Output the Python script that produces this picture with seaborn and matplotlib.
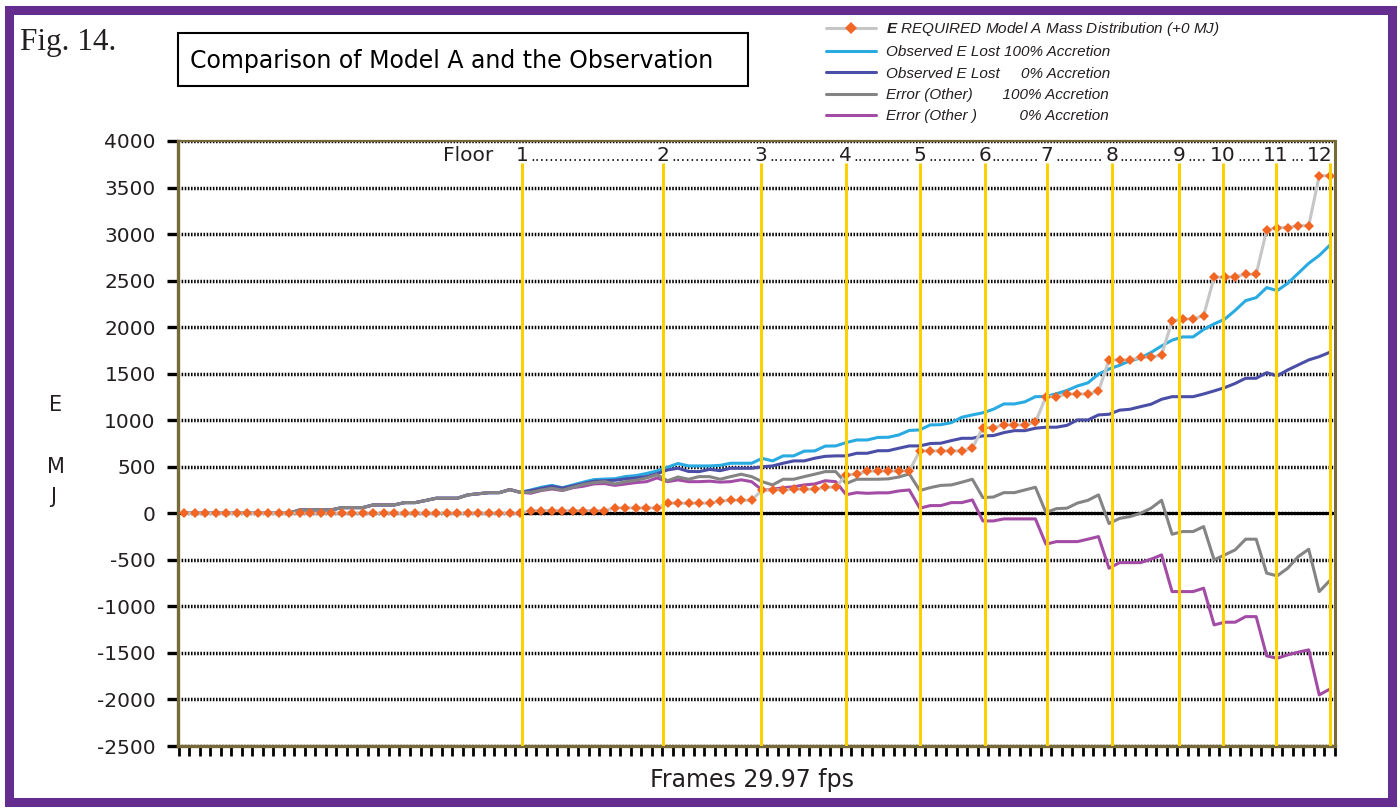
import numpy as np
import pandas as pd
import matplotlib
matplotlib.use("Agg")
import matplotlib.pyplot as plt
from matplotlib.lines import Line2D
from matplotlib.patches import Rectangle
from matplotlib.font_manager import FontProperties
import seaborn as sns

# ---------------- data ----------------
frames = list(range(110))

required = [
    0, 0, 0, 0, 0, 0, 0, 0, 0, 0,
    0, 0, 0, 0, 0, 0, 0, 0, 0, 0,
    0, 0, 0, 0, 0, 0, 0, 0, 0, 0,
    0, 0, 0, 29, 29, 29, 29, 29, 29, 29,
    29, 58, 58, 58, 58, 58, 108, 108, 108, 108,
    108, 131, 140, 140, 140, 251, 251, 251, 259, 259,
    259, 280, 280, 412, 420, 452, 455, 455, 455, 455,
    670, 670, 670, 670, 670, 699, 921, 921, 950, 950,
    950, 978, 1253, 1253, 1282, 1282, 1282, 1311, 1648, 1648,
    1648, 1677, 1677, 1701, 2067, 2088, 2088, 2124, 2536, 2536,
    2543, 2568, 2568, 3044, 3069, 3069, 3090, 3090, 3627, 3627,
]

observed_100 = [
    0, 0, 0, 0, 0, 0, 0, 0, 0, 0,
    0, 36, 36, 36, 36, 61, 61, 61, 90, 90,
    90, 115, 115, 138, 162, 162, 162, 198, 210, 222,
    222, 255, 225, 251, 280, 300, 275, 305, 335, 362,
    368, 372, 395, 405, 428, 455, 495, 535, 509, 509,
    509, 515, 538, 538, 538, 590, 563, 617, 617, 668,
    670, 722, 724, 760, 788, 788, 815, 817, 842, 890,
    896, 950, 952, 974, 1032, 1057, 1080, 1118, 1175, 1175,
    1198, 1253, 1255, 1285, 1320, 1368, 1402, 1495, 1550, 1590,
    1640, 1668, 1728, 1798, 1860, 1895, 1895, 1975, 2035, 2085,
    2180, 2285, 2317, 2425, 2392, 2471, 2579, 2686, 2770, 2880,
]

observed_0 = [
    0, 0, 0, 0, 0, 0, 0, 0, 0, 0,
    0, 36, 36, 36, 36, 61, 61, 61, 90, 90,
    90, 115, 115, 138, 162, 162, 162, 198, 210, 222,
    222, 255, 225, 245, 268, 290, 270, 295, 320, 345,
    350, 355, 370, 380, 395, 425, 466, 484, 450, 448,
    472, 458, 484, 484, 484, 500, 509, 538, 563, 563,
    592, 612, 617, 617, 645, 645, 672, 673, 699, 724,
    724, 750, 753, 781, 806, 806, 832, 835, 867, 888,
    888, 914, 925, 925, 945, 1003, 1003, 1057, 1064, 1108,
    1118, 1146, 1172, 1225, 1253, 1253, 1253, 1282, 1315, 1350,
    1395, 1451, 1451, 1511, 1476, 1540, 1594, 1648, 1683, 1730,
]

error_100 = [
    0, 0, 0, 0, 0, 0, 0, 0, 0, 0,
    0, 36, 36, 36, 36, 61, 61, 61, 90, 90,
    90, 115, 115, 138, 162, 162, 162, 198, 210, 222,
    222, 255, 225, 225, 250, 270, 248, 280, 310, 330,
    340, 315, 340, 355, 380, 415, 350, 390, 366, 394,
    394, 366, 394, 420, 394, 340, 305, 366, 366, 394,
    420, 448, 448, 320, 366, 366, 366, 370, 390, 423,
    245, 276, 300, 305, 334, 366, 169, 175, 222, 222,
    251, 280, 8, 50, 55, 110, 140, 198, -110, -55,
    -35, 0, 55, 140, -225, -196, -196, -143, -500, -447,
    -393, -278, -278, -643, -672, -590, -465, -386, -841, -723,
]

error_0 = [
    0, 0, 0, 0, 0, 0, 0, 0, 0, 0,
    0, 36, 36, 36, 36, 61, 61, 61, 90, 90,
    90, 115, 115, 138, 162, 162, 162, 198, 210, 222,
    222, 255, 225, 216, 245, 261, 245, 275, 291, 316,
    320, 300, 315, 330, 340, 380, 340, 359, 340, 340,
    345, 335, 340, 360, 340, 250, 258, 275, 285, 305,
    315, 350, 340, 200, 222, 215, 220, 220, 240, 251,
    55, 83, 83, 115, 115, 144, -82, -82, -60, -60,
    -60, -60, -332, -304, -304, -304, -278, -250, -590, -530,
    -530, -530, -493, -447, -841, -841, -841, -805, -1199, -1170,
    -1170, -1110, -1110, -1532, -1557, -1521, -1492, -1467, -1951, -1889,
]

floor_labels = ["1", "2", "3", "4", "5", "6", "7", "8", "9", "10", "11", "12"]
floor_frames = [32.2, 45.6, 54.9, 62.95, 70.0, 76.2, 82.1, 88.3, 94.7, 98.8, 103.9, 109.0]

y_ticks = list(range(-2500, 4001, 500))

legend_texts = [
    "REQUIRED Model A Mass Distribution (+0 MJ)",
    "Observed E Lost 100% Accretion",
    "Observed E Lost     0% Accretion",
    "Error (Other)       100% Accretion",
    "Error (Other )          0% Accretion",
]

# ---------------- style ----------------
ORANGE = "#f26522"
CONNECT = "#c6c6c6"
LIGHT_BLUE = "#29abe2"
DARK_BLUE = "#4a4ea6"
GRAY = "#848484"
PURPLE = "#a34ca6"
YELLOW = "#ffd000"
SPINE = "#776a3a"
PURPLE_FRAME = "#662d91"
TXT = "#231f20"

sns.set_style("white")
plt.rcParams["font.family"] = ["DejaVu Sans"]
plt.rcParams["axes.unicode_minus"] = False
plt.rcParams["mathtext.fontset"] = "custom"
plt.rcParams["mathtext.rm"] = "Liberation Sans:italic"
plt.rcParams["mathtext.it"] = "Liberation Sans:italic"
plt.rcParams["mathtext.bf"] = "Liberation Sans:italic:bold"
try:
    plt.rcParams["mathtext.bfit"] = "Liberation Sans:italic:bold"
    first_label = r"$\mathbfit{E}$ " + legend_texts[0]
except KeyError:
    first_label = r"$\mathbf{E}$ " + legend_texts[0]

W, H = 1400, 808
fig = plt.figure(figsize=(W / 100, H / 100), dpi=100, facecolor="white")

ax_left, ax_right, ax_top, ax_bottom = 178, 1335, 141, 746
ax = fig.add_axes([ax_left / W, 1 - ax_bottom / H,
                   (ax_right - ax_left) / W, (ax_bottom - ax_top) / H])
ax.set_facecolor("white")

df = pd.DataFrame({
    "frame": frames,
    "required": required,
    "observed_100": observed_100,
    "observed_0": observed_0,
    "error_100": error_100,
    "error_0": error_0,
})

LW = 2.2
sns.lineplot(data=df, x="frame", y="observed_100", ax=ax, color=LIGHT_BLUE,
             lw=LW, zorder=3, legend=False)
sns.lineplot(data=df, x="frame", y="observed_0", ax=ax, color=DARK_BLUE,
             lw=LW, zorder=3.1, legend=False)
sns.lineplot(data=df, x="frame", y="error_0", ax=ax, color=PURPLE,
             lw=LW, zorder=3.2, legend=False)
sns.lineplot(data=df, x="frame", y="error_100", ax=ax, color=GRAY,
             lw=LW, zorder=3.3, legend=False)
sns.lineplot(data=df, x="frame", y="required", ax=ax, color=CONNECT,
             lw=LW, marker="D", markersize=5.4, markerfacecolor=ORANGE,
             markeredgecolor=ORANGE, markeredgewidth=0, zorder=4, legend=False)

# axes limits / ticks
x_min, x_max = -0.57, 109.3
ax.set_xlim(x_min, x_max)
ax.set_ylim(-2500, 4000)
ax.set_yticks(y_ticks)
ax.set_yticklabels([str(v) for v in y_ticks])
ax.set_xticks(np.arange(0, 111) - 0.5)
ax.set_xticklabels([])
ax.set_xlabel("")
ax.set_ylabel("")

ax.yaxis.grid(True, color="black", lw=2.5, linestyle=(0, (0.45, 0.45)))
ax.xaxis.grid(False)
ax.set_axisbelow(True)
ax.axhline(0, color="black", lw=2.2, zorder=2)

ax.tick_params(axis="y", direction="out", length=8, width=2.4, color="black",
               labelsize=14.5, pad=8, labelcolor=TXT, left=True)
ax.tick_params(axis="x", direction="out", length=7.5, width=2.0, color="black",
               bottom=True, labelbottom=False)

for side, lw in (("left", 2.4), ("bottom", 2.4), ("top", 1.6), ("right", 2.2)):
    ax.spines[side].set_color(SPINE)
    ax.spines[side].set_linewidth(lw)
    ax.spines[side].set_visible(True)

# floor lines
ax.vlines(floor_frames, -2500, 3760, color=YELLOW, lw=2.2, zorder=6)

# floor labels
label_y = 3785
FS_FLOOR = 14.5
ax.text(24.6, label_y, "Floor", ha="left", va="baseline", fontsize=FS_FLOOR,
        color=TXT, zorder=7)
num_texts = []
for f, lab in zip(floor_frames, floor_labels):
    if lab == floor_labels[-1]:
        t = ax.text(x_max, label_y, lab, ha="right", va="baseline",
                    fontsize=FS_FLOOR, color=TXT, zorder=7)
    else:
        t = ax.text(f, label_y, lab, ha="center", va="baseline",
                    fontsize=FS_FLOOR, color=TXT, zorder=7)
    num_texts.append(t)

fig.canvas.draw()
renderer = fig.canvas.get_renderer()
DOT_FS = 10.5
probe = ax.text(0, 0, "." * 40, fontsize=DOT_FS)
dot_w = probe.get_window_extent(renderer).width / 40
probe.remove()
for a, b in zip(num_texts[:-1], num_texts[1:]):
    ea = a.get_window_extent(renderer)
    eb = b.get_window_extent(renderer)
    gap = eb.x0 - ea.x1 - 1
    n = max(int(gap / dot_w), 1)
    x_disp = ea.x1 + (gap - n * dot_w) / 2
    x_data = ax.transData.inverted().transform((x_disp, 0))[0]
    ax.text(x_data, label_y, "." * n, ha="left", va="baseline",
            fontsize=DOT_FS, color=TXT, zorder=7)

# legend
handles = [
    Line2D([], [], color=CONNECT, lw=LW, marker="D", ms=6.5, mfc=ORANGE,
           mec=ORANGE, mew=0),
    Line2D([], [], color=LIGHT_BLUE, lw=LW),
    Line2D([], [], color=DARK_BLUE, lw=LW),
    Line2D([], [], color=GRAY, lw=LW),
    Line2D([], [], color=PURPLE, lw=LW),
]
labels = [first_label] + legend_texts[1:]
leg = fig.legend(handles, labels, loc="upper left",
                 bbox_to_anchor=(826 / W, 1 - 20 / H), frameon=False,
                 prop=FontProperties(family="Liberation Sans", style="italic",
                                     size=11),
                 handlelength=3.3, handletextpad=0.6, labelspacing=0.48,
                 borderpad=0, borderaxespad=0, numpoints=1)
for t in leg.get_texts():
    t.set_color(TXT)

# figure decorations
fig.add_artist(Rectangle((8.5 / W, 1 - 801.5 / H), (1391.5 - 8.5) / W,
                         (801.5 - 9.5) / H, transform=fig.transFigure,
                         fill=False, edgecolor=PURPLE_FRAME, lw=6.5, zorder=0))
fig.add_artist(Rectangle((178 / W, 1 - 86 / H), 570 / W, 53 / H,
                         transform=fig.transFigure, fill=False,
                         edgecolor="black", lw=1.5))
fig.text(190 / W, 1 - 61 / H, "Comparison of Model A and the Observation",
         ha="left", va="center", fontsize=17, color="black")
fig.text(20 / W, 1 - 50 / H, "Fig. 14.", ha="left", va="baseline",
         fontsize=22.5, family="Liberation Serif", color=TXT)
fig.text(56 / W, 1 - 405 / H, "E", ha="center", va="center", fontsize=15, color=TXT)
fig.text(56 / W, 1 - 467 / H, "M", ha="center", va="center", fontsize=15, color=TXT)
fig.text(53 / W, 1 - 497 / H, "J", ha="center", va="center", fontsize=15, color=TXT)
fig.text(752 / W, 1 - 780 / H, "Frames 29.97 fps", ha="center", va="center",
         fontsize=17, color=TXT)

fig.savefig("out.png", dpi=100, facecolor="white")
